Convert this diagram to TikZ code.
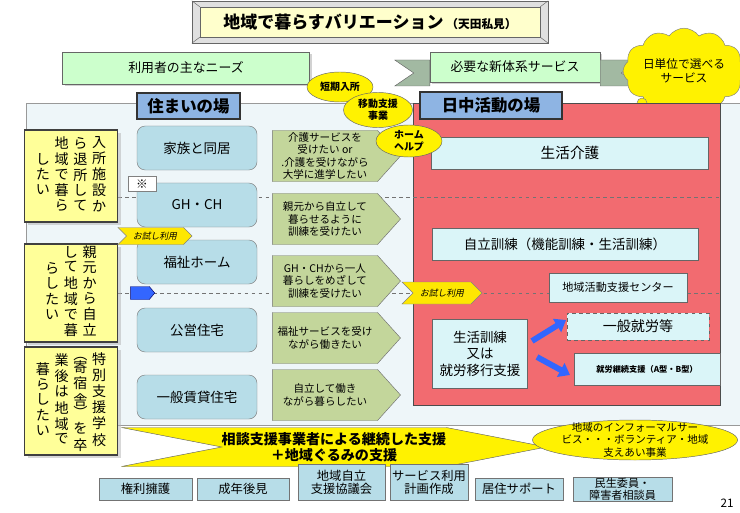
\documentclass[tikz,border=0pt]{standalone}
\usepackage{fontspec}
\setmainfont{Noto Sans CJK JP}[AutoFakeSlant=0.2]
\usetikzlibrary{arrows.meta,positioning,shapes.geometric,shapes.symbols,shadows}

\definecolor{needgreen}{HTML}{CCFFCC}
\definecolor{panelbg}{HTML}{EEF6F9}
\definecolor{homeblue}{HTML}{B7DDE8}
\definecolor{wantgreen}{HTML}{C3D69B}
\definecolor{dayred}{HTML}{F26B70}
\definecolor{daycyan}{HTML}{DAF5F8}
\definecolor{labelblue}{HTML}{8EB4E3}
\definecolor{wishyellow}{HTML}{FFFF99}
\definecolor{titleyellow}{HTML}{FFFFCC}
\definecolor{tryblue}{HTML}{3366FF}

\newcommand\tate[1]{\begin{tabular}[c]{@{\hspace{2pt}}c@{\hspace{2pt}}}#1\end{tabular}}
\newcommand\tateparen[1]{\rotatebox[origin=c]{-90}{#1}}

\begin{document}
\begin{tikzpicture}[x=0.03cm, y=-0.03cm,
    needbox/.style={draw=black!60, fill=needgreen, drop shadow={shadow xshift=2pt, shadow yshift=-2pt, fill=black!35}, font=\fontsize{11}{13}\selectfont},
    placelabel/.style={draw=black!80, line width=1.2pt, fill=labelblue, font=\bfseries\fontsize{14}{16}\selectfont, inner sep=0pt},
    home/.style={draw=black!50, fill=homeblue, rounded corners=7pt, minimum width=3.6cm, minimum height=1.32cm, font=\fontsize{11.5}{13}\selectfont},
    want/.style={signal, signal to=east, signal pointer angle=96, draw=black!55, fill=wantgreen, minimum width=3.84cm, minimum height=1.53cm, align=center, font=\fontsize{9}{10.5}\selectfont, inner sep=0.5pt},
    wish/.style={draw=black!75, line width=1.2pt, fill=wishyellow, minimum width=2.79cm, drop shadow={fill=black!30}, font=\fontsize{12}{12.5}\selectfont, inner sep=0pt},
    service/.style={ellipse, draw=black!60, fill=yellow, align=center, font=\bfseries\itshape\fontsize{8.5}{10}\selectfont, inner sep=0pt},
    day/.style={draw=black!60, fill=daycyan, align=center},
    trial/.style={signal, signal from=west, signal to=east, signal pointer angle=90, draw=black!50, fill=yellow!90!orange, font=\itshape\fontsize{7.5}{8}\selectfont, inner sep=1pt},
    support/.style={draw=black!55, fill=homeblue, align=center, font=\fontsize{10.5}{11}\selectfont, inner sep=1pt},
    bubble/.style={circle, draw=black!50, fill=yellow, inner sep=0pt},
    tail/.style={draw=black!60, fill=needgreen!45!gray},
    sep/.style={dashed, black!55, thin},
    push/.style={line width=5pt, draw=tryblue, -{Triangle[length=9pt, width=13pt]}}
  ]
  \useasboundingbox (0,0) rectangle (740,512);

  \node[draw=black!60, fill=black!12, minimum width=10.68cm, minimum height=1.26cm] (titleframe) at (370,22) {};
  \node[draw=black!60, fill=titleyellow, minimum width=10.2cm, minimum height=0.9cm, font=\bfseries\fontsize{14.5}{16}\selectfont] (title) at (370,22) {地域で暮らすバリエーション\,{\fontsize{10}{12}\selectfont（天田私見）}};
  \foreach \c in {north west, north east, south west, south east}
    \draw[black!60] (titleframe.\c) -- (title.\c);

  \node[needbox, minimum width=7.41cm, minimum height=0.96cm] (needs) at (186,68) {利用者の主なニーズ};
  \node[needbox, minimum width=5.1cm, minimum height=0.9cm] (newsys) at (515,67) {必要な新体系サービス};
  \filldraw[tail] (newsys.west) ++(0,-7) -- ++(-35,0) -- ++(19,13) -- ++(-19,13) -- ++(35,0) -- cycle;
  \filldraw[tail] (newsys.east) ++(0,-7) -- ++(40,0) -- ++(-19,13) -- ++(19,13) -- ++(-40,0) -- cycle;

  \node[cloud, cloud puffs=12, cloud puff arc=110, aspect=1.6, draw=black!50, fill=yellow, minimum width=2.9cm, minimum height=1.85cm, align=center, font=\fontsize{10}{12}\selectfont, inner sep=0pt] (daily) at (684,71) {日単位で選べる\\サービス};
  \node[bubble, minimum size=0.3cm] (bubA) at (642,103) {};
  \node[bubble, minimum size=0.2cm] (bubB) at (629,111) {};
  \node[bubble, minimum size=0.11cm] (bubC) at (619,117) {};

  \draw[draw=black!40, fill=panelbg] (26,103) rectangle (742,425);
  \draw[draw=black!70, line width=0.8pt, fill=dayred] (413,103) rectangle (720,405);

  \coordinate (sepAw) at (118,197);
  \coordinate (sepAe) at (720,197);
  \coordinate (sepBw) at (118,293);
  \coordinate (sepBe) at (720,293);
  \draw[sep] (sepAw) -- (sepAe);
  \draw[sep] (sepBw) -- (sepBe);

  \node[placelabel, minimum width=3.09cm, minimum height=0.78cm] (homelabel) at (188.5,106) {住まいの場};
  \node[placelabel, minimum width=4.26cm, minimum height=0.81cm] (daylabel) at (491,105.5) {日中活動の場};

  \node[wish, minimum height=2.76cm] (wishA) at (71,176) {\tate{し\\た\\い}\tate{地\\域\\で\\暮\\ら}\tate{ら\\退\\所\\し\\て}\tate{入\\所\\施\\設\\か}};
  \node[wish, minimum height=2.94cm] (wishB) at (71,293) {\tate{ら\\し\\た\\い}\tate{し\\て\\地\\域\\で\\暮}\tate{親\\元\\か\\ら\\自\\立}};
  \node[wish, minimum height=3.24cm] (wishC) at (71,401) {\tate{暮\\ら\\し\\た\\い}\tate{業\\後\\は\\地\\域\\で}\tate{\tateparen{（}\\[-3pt]寄\\宿\\舎\\[-3pt]\tateparen{）}\\を\\卒}\tate{特\\別\\支\\援\\学\\校}};

  \node[home] (family) at (197,148) {家族と同居};
  \node[home] (ghch) at (197,205) {GH・CH};
  \node[home] (welfare) at (197,262) {福祉ホーム};
  \node[home] (public) at (197,330) {公営住宅};
  \node[home] (rental) at (197,397) {一般賃貸住宅};
  \node[draw=black!50, fill=white, minimum width=0.84cm, minimum height=0.45cm, inner sep=0pt, font=\fontsize{10}{10}\selectfont] (note) at (142,184) {※};

  \node[trial, minimum width=2.22cm, minimum height=0.51cm] (trialA) at (155,236) {お試し利用};
  \node[trial, minimum width=2.4cm, minimum height=0.66cm] (trialB) at (442,293) {お試し利用};
  \node[signal, signal to=east, signal pointer angle=100, fill=tryblue, draw=blue!40!black, minimum width=0.72cm, minimum height=0.39cm, inner sep=0pt] (shift) at (140,293) {};

  \node[want] (wantA) at (325,156) {介護サービスを\\受けたい or\\.介護を受けながら\\大学に進学したい};
  \node[want] (wantB) at (325,219) {親元から自立して\\暮らせるように\\訓練を受けたい};
  \node[want] (wantC) at (325,281) {GH・CHから一人\\暮らしをめざして\\訓練を受けたい};
  \node[want] (wantD) at (325,338) {福祉サービスを受け\\ながら働きたい};
  \node[want] (wantE) at (325,395) {自立して働き\\ながら暮らしたい};

  \node[day, minimum width=8.31cm, minimum height=0.96cm, font=\fontsize{12.5}{14}\selectfont] (care) at (570,153) {生活介護};
  \node[day, minimum width=7.98cm, minimum height=0.96cm, font=\fontsize{11.5}{13}\selectfont] (indep) at (565,244) {自立訓練（機能訓練・生活訓練）};
  \node[day, minimum width=4.14cm, minimum height=0.87cm, font=\fontsize{9.5}{11}\selectfont] (actcenter) at (618,287.5) {地域活動支援センター};
  \node[day, minimum width=2.85cm, minimum height=2.07cm, font=\fontsize{11.5}{14}\selectfont] (train) at (480,353.5) {生活訓練\\又は\\就労移行支援};
  \node[day, dashed, minimum width=4.26cm, minimum height=0.81cm, font=\fontsize{12}{14}\selectfont] (work) at (638,326.5) {一般就労等};
  \node[day, minimum width=4.38cm, minimum height=0.96cm, font=\bfseries\fontsize{7}{8}\selectfont] (cont) at (647,369) {就労継続支援（A型・B型）};

  \coordinate (upS) at (532,341);
  \coordinate (upE) at (566,320);
  \coordinate (dnS) at (537,357);
  \coordinate (dnE) at (570,375);
  \draw[push] (upS) -- (upE);
  \draw[push] (dnS) -- (dnE);

  \node[service, minimum width=1.98cm, minimum height=0.9cm] (short) at (340,87) {短期入所};
  \node[service, minimum width=2.07cm, minimum height=1.05cm] (move) at (378,110) {移動支援\\事業};
  \node[service, minimum width=1.98cm, minimum height=0.96cm] (helper) at (409,141) {ホーム\\ヘルプ};

  \node[signal, signal from=west, signal to=east, signal pointer angle=22, draw=black!60, fill=yellow, minimum width=11.9cm, minimum height=1.17cm, align=center, font=\bfseries\fontsize{12}{14}\selectfont, inner sep=0pt] (consult) at (334,447) {相談支援事業者による継続した支援\\＋地域ぐるみの支援};
  \node[ellipse, draw=black!60, fill=yellow, minimum width=6.15cm, minimum height=1.2cm, label={[align=center, font=\fontsize{9}{10.5}\selectfont]center:地域のインフォーマルサー\\ビス・・・ボランティア・地域\\支えあい事業}] (informal) at (635,440) {};

  \node[support, minimum width=2.79cm, minimum height=0.66cm] (rights) at (145.5,489) {権利擁護};
  \node[support, minimum width=2.76cm, minimum height=0.66cm] (guard) at (243,489) {成年後見};
  \node[support, minimum width=2.61cm, minimum height=1.08cm] (council) at (341.5,482) {地域自立\\支援協議会};
  \node[support, minimum width=2.34cm, minimum height=1.08cm] (plan) at (429,482) {サービス利用\\計画作成};
  \node[support, minimum width=2.64cm, minimum height=0.66cm] (house) at (519,489) {居住サポート};
  \node[support, minimum width=2.97cm, minimum height=0.66cm, font=\fontsize{9.5}{10}\selectfont] (commissioner) at (622.5,489) {民生委員・\\障害者相談員};
  \node[font=\fontsize{10}{12}\selectfont] (pagenum) at (727,503) {21};
\end{tikzpicture}
\end{document}
